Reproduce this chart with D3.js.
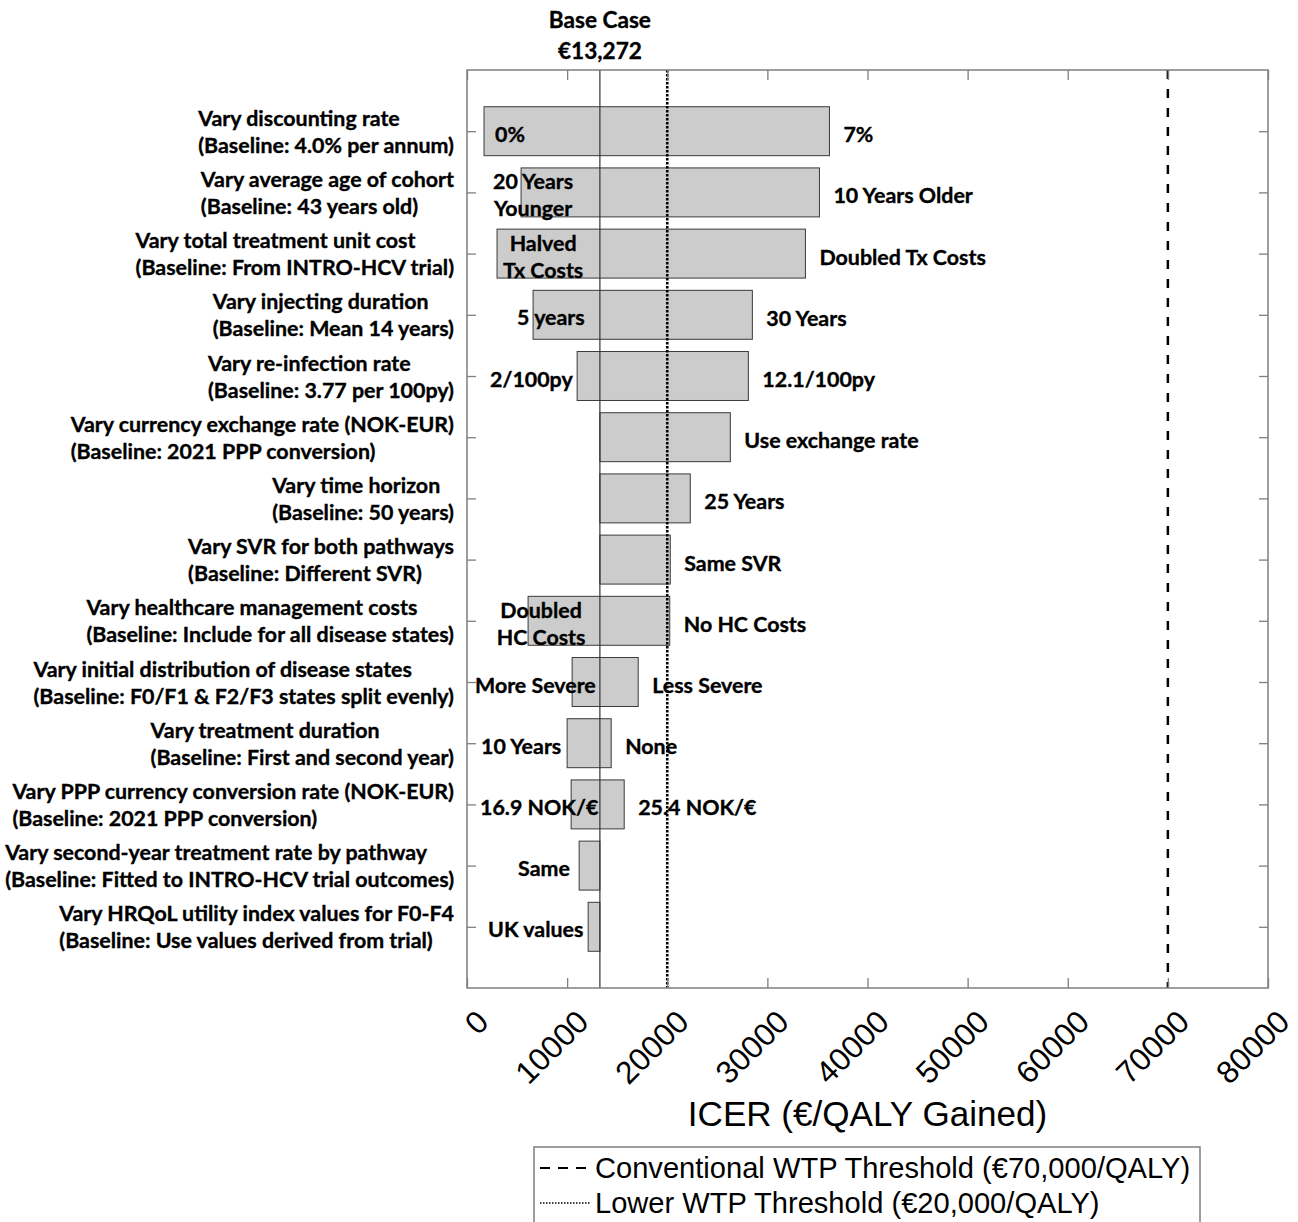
<!DOCTYPE html>
<html>
<head>
<meta charset="utf-8">
<script src="https://cdn.jsdelivr.net/npm/d3@7"></script>
<style>
  body { margin: 0; background: #fff; }
  svg { display: block; }
</style>
</head>
<body>
<svg id="chart" width="1298" height="1222"></svg>
<script>
// One-way sensitivity analysis (tornado) of the ICER, base case €13,272/QALY.
const baseCase = 13272;

const parameterLabels = [
  ["Vary discounting rate", "(Baseline: 4.0% per annum)"],
  ["Vary average age of cohort", "(Baseline: 43 years old)"],
  ["Vary total treatment unit cost", "(Baseline: From INTRO-HCV trial)"],
  ["Vary injecting duration", "(Baseline: Mean 14 years)"],
  ["Vary re-infection rate", "(Baseline: 3.77 per 100py)"],
  ["Vary currency exchange rate (NOK-EUR)", "(Baseline: 2021 PPP conversion)"],
  ["Vary time horizon ", "(Baseline: 50 years)"],
  ["Vary SVR for both pathways", "(Baseline: Different SVR)"],
  ["Vary healthcare management costs", "(Baseline: Include for all disease states)"],
  ["Vary initial distribution of disease states", "(Baseline: F0/F1 & F2/F3 states split evenly)"],
  ["Vary treatment duration", "(Baseline: First and second year)"],
  ["Vary PPP currency conversion rate (NOK-EUR)", "(Baseline: 2021 PPP conversion)"],
  ["Vary second-year treatment rate by pathway", "(Baseline: Fitted to INTRO-HCV trial outcomes)"],
  ["Vary HRQoL utility index values for F0-F4", "(Baseline: Use values derived from trial)"]
];

// ICER (€/QALY) at the lower and upper end of each scenario
const lowICER  = [1700, 5400, 3000, 6600, 11000, 13272, 13272, 13272, 6100, 10500, 10000, 10400, 11200, 12100];
const highICER = [36200, 35200, 33800, 28500, 28100, 26300, 22300, 20300, 20250, 17100, 14400, 15700, 13272, 13272];

const lowScenario = [
  ["0%"], ["20 Years", "Younger"], ["Halved", "Tx Costs"], ["5 years"], ["2/100py"],
  [], [], [], ["Doubled", "HC Costs"], ["More Severe"], ["10 Years"], ["16.9 NOK/€"], ["Same"], ["UK values"]
];
const highScenario = [
  "7%", "10 Years Older", "Doubled Tx Costs", "30 Years", "12.1/100py", "Use exchange rate",
  "25 Years", "Same SVR", "No HC Costs", "Less Severe", "None", "25.4 NOK/€", "", ""
];

const xTickValues = [0, 10000, 20000, 30000, 40000, 50000, 60000, 70000, 80000];
const lowerWTP = 20000;
const conventionalWTP = 70000;

// --- layout -------------------------------------------------------------
// where each lower-end scenario label sits (ICER units) and how it is aligned
const lowLabelAt     = [2800, 6600, 7600, 5000, 2300, 0, 0, 0, 7400, 800, 1400, 1300, 5100, 2100];
const lowLabelAnchor = ["start", "middle", "middle", "start", "start", "start", "start", "start",
                        "middle", "start", "start", "start", "start", "start"];

const plot = { left: 467, right: 1268, top: 70, bottom: 988 };
const labelFont = "Lato, 'Open Sans', sans-serif";
const sansFont = "'Liberation Sans', Arial, Helvetica, sans-serif";
const labelSize = 21.4;
const labelStroke = 0.35;
const frameColor = "#7f7f7f";

const svg = d3.select("#chart");

const x = d3.scaleLinear().domain([0, 80000]).range([plot.left, plot.right]);
const y = d3.scaleLinear().domain([0, 15]).range([plot.top, plot.bottom]);
const rows = d3.range(parameterLabels.length);
const barHalf = 0.4;

const boldText = g => g
  .attr("font-family", labelFont)
  .attr("font-weight", 700)
  .attr("font-size", labelSize)
  .attr("fill", "#000")
  .attr("stroke", "#000")
  .attr("stroke-width", labelStroke);

// bars
svg.append("g").selectAll("rect").data(rows).join("rect")
  .attr("x", i => x(lowICER[i]))
  .attr("y", i => y(i + 1 - barHalf))
  .attr("width", i => x(highICER[i]) - x(lowICER[i]))
  .attr("height", y(2 * barHalf) - y(0))
  .attr("fill", "#cccccc")
  .attr("stroke", "#3a3a3a")
  .attr("stroke-width", 1);

// scenario labels beside / inside the bars
const scen = svg.append("g").call(boldText);

rows.forEach(i => {
  const lines = lowScenario[i];
  if (lines.length) {
    const t = scen.append("text")
      .attr("text-anchor", lowLabelAnchor[i])
      .attr("dominant-baseline", "central");
    const cy = y(i + 1) + 2.5;
    lines.forEach((ln, k) => {
      t.append("tspan")
        .attr("x", x(lowLabelAt[i]))
        .attr("y", cy + (k - (lines.length - 1) / 2) * 27)
        .text(ln);
    });
  }
  if (highScenario[i]) {
    scen.append("text")
      .attr("x", x(highICER[i]) + 14)
      .attr("y", y(i + 1) + 3)
      .attr("dominant-baseline", "central")
      .text(highScenario[i]);
  }
});

// parameter labels: two-line blocks, lines left-aligned, block right-aligned to the axis
const yl = svg.append("g").call(boldText);
rows.forEach(i => {
  const t = yl.append("text").attr("dominant-baseline", "central");
  const spans = parameterLabels[i].map((ln, k) =>
    t.append("tspan").attr("y", y(i + 1) + (k - 0.5) * 27).text(ln));
  const wMax = d3.max(spans, s => s.node().getComputedTextLength());
  spans.forEach(s => s.attr("x", plot.left - 13 - wMax));
});

// base case and willingness-to-pay reference lines
svg.append("line")
  .attr("x1", x(baseCase)).attr("x2", x(baseCase))
  .attr("y1", plot.top).attr("y2", plot.bottom)
  .attr("stroke", "#333").attr("stroke-width", 1.2);
svg.append("line")
  .attr("x1", x(lowerWTP)).attr("x2", x(lowerWTP))
  .attr("y1", plot.top).attr("y2", plot.bottom)
  .attr("stroke", "#000").attr("stroke-width", 2.6).attr("stroke-dasharray", "2.5,1.5");
svg.append("line")
  .attr("x1", x(conventionalWTP)).attr("x2", x(conventionalWTP))
  .attr("y1", plot.top).attr("y2", plot.bottom)
  .attr("stroke", "#000").attr("stroke-width", 2.5).attr("stroke-dasharray", "9,10");

// axes: inward ticks on all four sides
const tickRows = rows.map(i => i + 1);
const axisStyle = g => {
  g.select(".domain").remove();
  g.selectAll(".tick line").attr("stroke", frameColor).attr("stroke-width", 1.3);
};
svg.append("g").attr("transform", `translate(0,${plot.bottom})`)
  .call(d3.axisBottom(x).tickValues(xTickValues).tickSize(-10).tickFormat(d3.format("d")))
  .call(axisStyle)
  .call(g => g.selectAll(".tick text")
    .attr("font-family", sansFont).attr("font-size", 31.5).attr("fill", "#000")
    .attr("x", 0).attr("y", 0).attr("dy", "0.35em")
    .attr("text-anchor", "end")
    .attr("transform", "translate(15,28) rotate(-45)"));
svg.append("g").attr("transform", `translate(0,${plot.top})`)
  .call(d3.axisTop(x).tickValues(xTickValues).tickSize(-10).tickFormat(""))
  .call(axisStyle);
svg.append("g").attr("transform", `translate(${plot.left},0)`)
  .call(d3.axisLeft(y).tickValues(tickRows).tickSize(-9).tickFormat(""))
  .call(axisStyle);
svg.append("g").attr("transform", `translate(${plot.right},0)`)
  .call(d3.axisRight(y).tickValues(tickRows).tickSize(-9).tickFormat(""))
  .call(axisStyle);

// frame
svg.append("rect")
  .attr("x", plot.left).attr("y", plot.top)
  .attr("width", plot.right - plot.left).attr("height", plot.bottom - plot.top)
  .attr("fill", "none").attr("stroke", frameColor).attr("stroke-width", 1.5);

// base case heading
svg.append("g").call(boldText)
  .attr("font-size", 22.6)
  .attr("text-anchor", "middle")
  .selectAll("text").data(["Base Case", "€" + d3.format(",")(baseCase)]).join("text")
  .attr("x", x(baseCase))
  .attr("y", (d, k) => 19 + k * 31)
  .attr("dominant-baseline", "central")
  .text(d => d);

// axis title
svg.append("text")
  .attr("x", (plot.left + plot.right) / 2)
  .attr("y", 1113)
  .attr("text-anchor", "middle")
  .attr("dominant-baseline", "central")
  .attr("font-family", sansFont).attr("font-size", 35.1)
  .text("ICER (€/QALY Gained)");

// legend
const legend = svg.append("g");
legend.append("rect")
  .attr("x", 534).attr("y", 1147).attr("width", 666).attr("height", 110)
  .attr("fill", "#fff").attr("stroke", frameColor).attr("stroke-width", 1.5);
const legendItems = [
  { text: "Conventional WTP Threshold (€70,000/QALY)", dash: "10,8", width: 2 },
  { text: "Lower WTP Threshold (€20,000/QALY)", dash: "1.5,1.5", width: 1.6 }
];
legendItems.forEach((d, k) => {
  const cy = 1168 + k * 35;
  legend.append("line")
    .attr("x1", 540).attr("x2", 590).attr("y1", cy).attr("y2", cy)
    .attr("stroke", "#000").attr("stroke-width", d.width).attr("stroke-dasharray", d.dash);
  legend.append("text")
    .attr("x", 595).attr("y", cy)
    .attr("dominant-baseline", "central")
    .attr("font-family", sansFont).attr("font-size", 29.1)
    .text(d.text);
});
</script>
</body>
</html>
